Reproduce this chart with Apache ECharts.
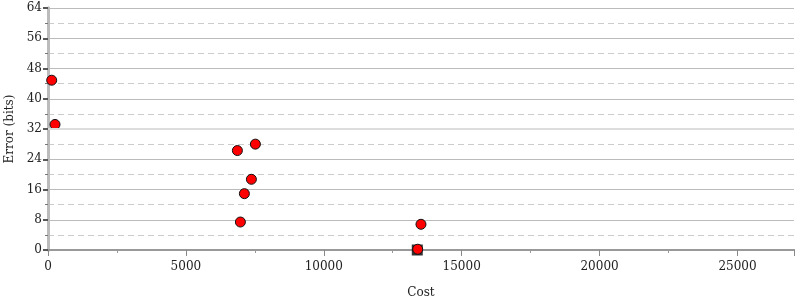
<!DOCTYPE html>
<html><head><meta charset="utf-8">
<script src="https://cdn.jsdelivr.net/npm/echarts@6/dist/echarts.min.js"></script>
<style>html,body{margin:0;padding:0;background:#fff}#c{width:800px;height:300px}</style>
</head><body><div id="c"></div>
<script>
const costs = [134, 254, 6867, 7520, 7375, 7121, 6976, 13524, 13405];
const errors = [44.9, 33.2, 26.3, 28.0, 18.7, 14.9, 7.4, 6.8, 0.2];
const bestCost = [13390];
const bestError = [0];
const xTicks = [0, 5000, 10000, 15000, 20000, 25000];
const yTicks = [0, 8, 16, 24, 32, 40, 48, 56, 64];

const font = 'DejaVu Serif';
const chart = echarts.init(document.getElementById('c'));
chart.setOption({
  animation: false,
  grid: {left: 48, right: 6, top: 8, bottom: 50, outerBoundsMode: 'none', containLabel: false},
  xAxis: [{
    type: 'value', min: 0, max: 27050, interval: 5000,
    name: 'Cost', nameLocation: 'middle', nameGap: 37,
    nameTextStyle: {fontFamily: font, fontSize: 12, color: '#222'},
    axisLine: {show: true, lineStyle: {color: '#999', width: 2}},
    axisTick: {show: true, length: 6, lineStyle: {color: '#888', width: 1}},
    minorTick: {show: true, splitNumber: 2, length: 3, lineStyle: {color: '#999'}},
    axisLabel: {fontFamily: font, fontSize: 12, color: '#222', margin: 11,
      formatter: v => xTicks.includes(v) ? String(v) : ''},
    splitLine: {show: false}
  }, {
    type: 'value', position: 'top', min: 0, max: 27050, interval: 5000,
    axisLine: {show: true, lineStyle: {color: '#999', width: 2}},
    axisTick: {show: false}, axisLabel: {show: false}, splitLine: {show: false}
  }],
  yAxis: [{
    type: 'value', min: 0, max: 64, interval: 8,
    name: 'Error (bits)', nameLocation: 'middle', nameGap: 32,
    nameTextStyle: {fontFamily: font, fontSize: 12, color: '#222'},
    axisLine: {show: true, lineStyle: {color: '#bbb', width: 3}},
    axisTick: {show: true, length: 5, lineStyle: {color: '#333', width: 1.5}},
    minorTick: {show: true, splitNumber: 2, length: 3, lineStyle: {color: '#999'}},
    axisLabel: {fontFamily: font, fontSize: 12, color: '#222', margin: 6,
      verticalAlign: 'middle', padding: [3, 0, 0, 0],
      formatter: v => yTicks.includes(v) ? String(v) : ''},
    splitLine: {show: true, lineStyle: {color: '#bbb', width: 1}},
    minorSplitLine: {show: true, lineStyle: {color: '#ccc', width: 1, type: [6, 4]}}
  }, {
    type: 'value', position: 'right', min: 0, max: 64, interval: 8,
    axisLine: {show: true, lineStyle: {color: '#bbb', width: 3}},
    axisTick: {show: true, inside: true, length: 5, lineStyle: {color: '#555', width: 1.5}},
    minorTick: {show: true, splitNumber: 2, length: 3, lineStyle: {color: '#777'}},
    axisLabel: {show: false}, splitLine: {show: false}
  }],
  series: [{
    type: 'scatter', xAxisIndex: 0, yAxisIndex: 0,
    data: bestCost.map((c, i) => [c, bestError[i]]),
    symbol: 'rect', symbolSize: 11,
    itemStyle: {color: '#000'}, z: 2
  }, {
    type: 'scatter', xAxisIndex: 0, yAxisIndex: 0,
    data: costs.map((c, i) => [c, errors[i]]),
    symbol: 'circle', symbolSize: 10,
    itemStyle: {color: '#ff0000', borderColor: '#111', borderWidth: 1, opacity: 1},
    markLine: {silent: true, symbol: 'none', label: {show: false},
      lineStyle: {color: '#ddd', width: 2, type: 'solid'},
      data: [{yAxis: 32}]},
    z: 3
  }]
});
</script></body></html>
